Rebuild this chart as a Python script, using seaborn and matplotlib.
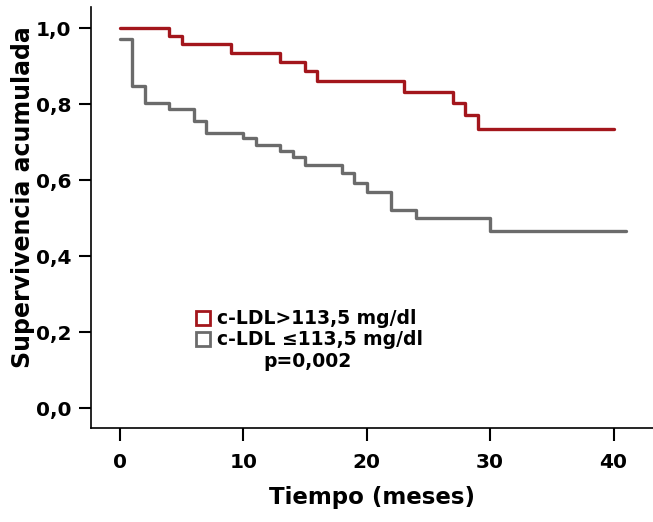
import pandas as pd
import matplotlib.pyplot as plt
import seaborn as sns
from matplotlib.lines import Line2D

# Kaplan-Meier curves
t_alto = [0, 4, 5, 9, 13, 15, 16, 23, 27, 28, 29, 40]
s_alto = [1.0, 0.980, 0.957, 0.933, 0.911, 0.888, 0.861, 0.832, 0.803, 0.771, 0.733, 0.733]

t_bajo = [0, 1, 2, 4, 6, 7, 10, 11, 13, 14, 15, 18, 19, 20, 22, 24, 30, 41]
s_bajo = [0.970, 0.847, 0.802, 0.786, 0.756, 0.723, 0.710, 0.692, 0.677, 0.660,
          0.639, 0.618, 0.593, 0.569, 0.521, 0.499, 0.466, 0.466]

grupos = ['c-LDL>113,5 mg/dl', 'c-LDL \u2264113,5 mg/dl']
colores = ['#a3161c', '#6b6b6b']
x_ticks = [0, 10, 20, 30, 40]
y_ticks = [0.0, 0.2, 0.4, 0.6, 0.8, 1.0]

df = pd.concat([
    pd.DataFrame({'tiempo': t_alto, 'superv': s_alto, 'grupo': grupos[0]}),
    pd.DataFrame({'tiempo': t_bajo, 'superv': s_bajo, 'grupo': grupos[1]}),
])

sns.set_style('ticks')
plt.rcParams['font.family'] = ['DejaVu Sans']
plt.rcParams['font.weight'] = 'bold'
plt.rcParams['text.color'] = 'black'
plt.rcParams['axes.labelcolor'] = 'black'
plt.rcParams['xtick.color'] = 'black'
plt.rcParams['ytick.color'] = 'black'

fig = plt.figure(figsize=(6.53, 5.22), dpi=100)
ax = fig.add_axes([0.1394, 0.180, 0.8606, 0.8066])

sns.lineplot(data=df, x='tiempo', y='superv', hue='grupo', palette=colores,
             drawstyle='steps-post', estimator=None, sort=False,
             linewidth=2.4, legend=False, ax=ax)

ax.set_xlim(-2.35, 43.2)
ax.set_ylim(-0.0526, 1.0553)
ax.set_xticks(x_ticks)
ax.set_yticks(y_ticks)
ax.set_xticklabels([str(v) for v in x_ticks], fontsize=14.5, fontweight='bold')
ax.set_yticklabels([f'{v:.1f}'.replace('.', ',') for v in y_ticks],
                   fontsize=14.5, fontweight='bold')
ax.tick_params(axis='both', length=9, width=1.5, color='black', pad=5)
ax.tick_params(axis='x', pad=9)
ax.set_xlabel('Tiempo (meses)', fontsize=16.5, fontweight='bold', labelpad=10)
ax.set_ylabel('Supervivencia acumulada', fontsize=17, fontweight='bold')
ax.yaxis.set_label_coords(-0.1, 0.549)

for s in ['top', 'right']:
    ax.spines[s].set_visible(False)
for s in ['left', 'bottom']:
    ax.spines[s].set_linewidth(1.2)
    ax.spines[s].set_color('black')

handles = [Line2D([], [], marker='s', linestyle='none', markersize=10,
                  markerfacecolor='none', markeredgecolor=c, markeredgewidth=2)
           for c in colores]
leg = ax.legend(handles, grupos, loc='upper left', bbox_to_anchor=(0.17, 0.3),
                frameon=False, handletextpad=0.2, labelspacing=0.1,
                handlelength=1.0, borderaxespad=0,
                prop={'size': 13.5, 'weight': 'bold'})
ax.text(0.306, 0.159, 'p=0,002', transform=ax.transAxes, fontsize=13.5,
        fontweight='bold', va='center', ha='left')

plt.savefig('out.png', dpi=100)
